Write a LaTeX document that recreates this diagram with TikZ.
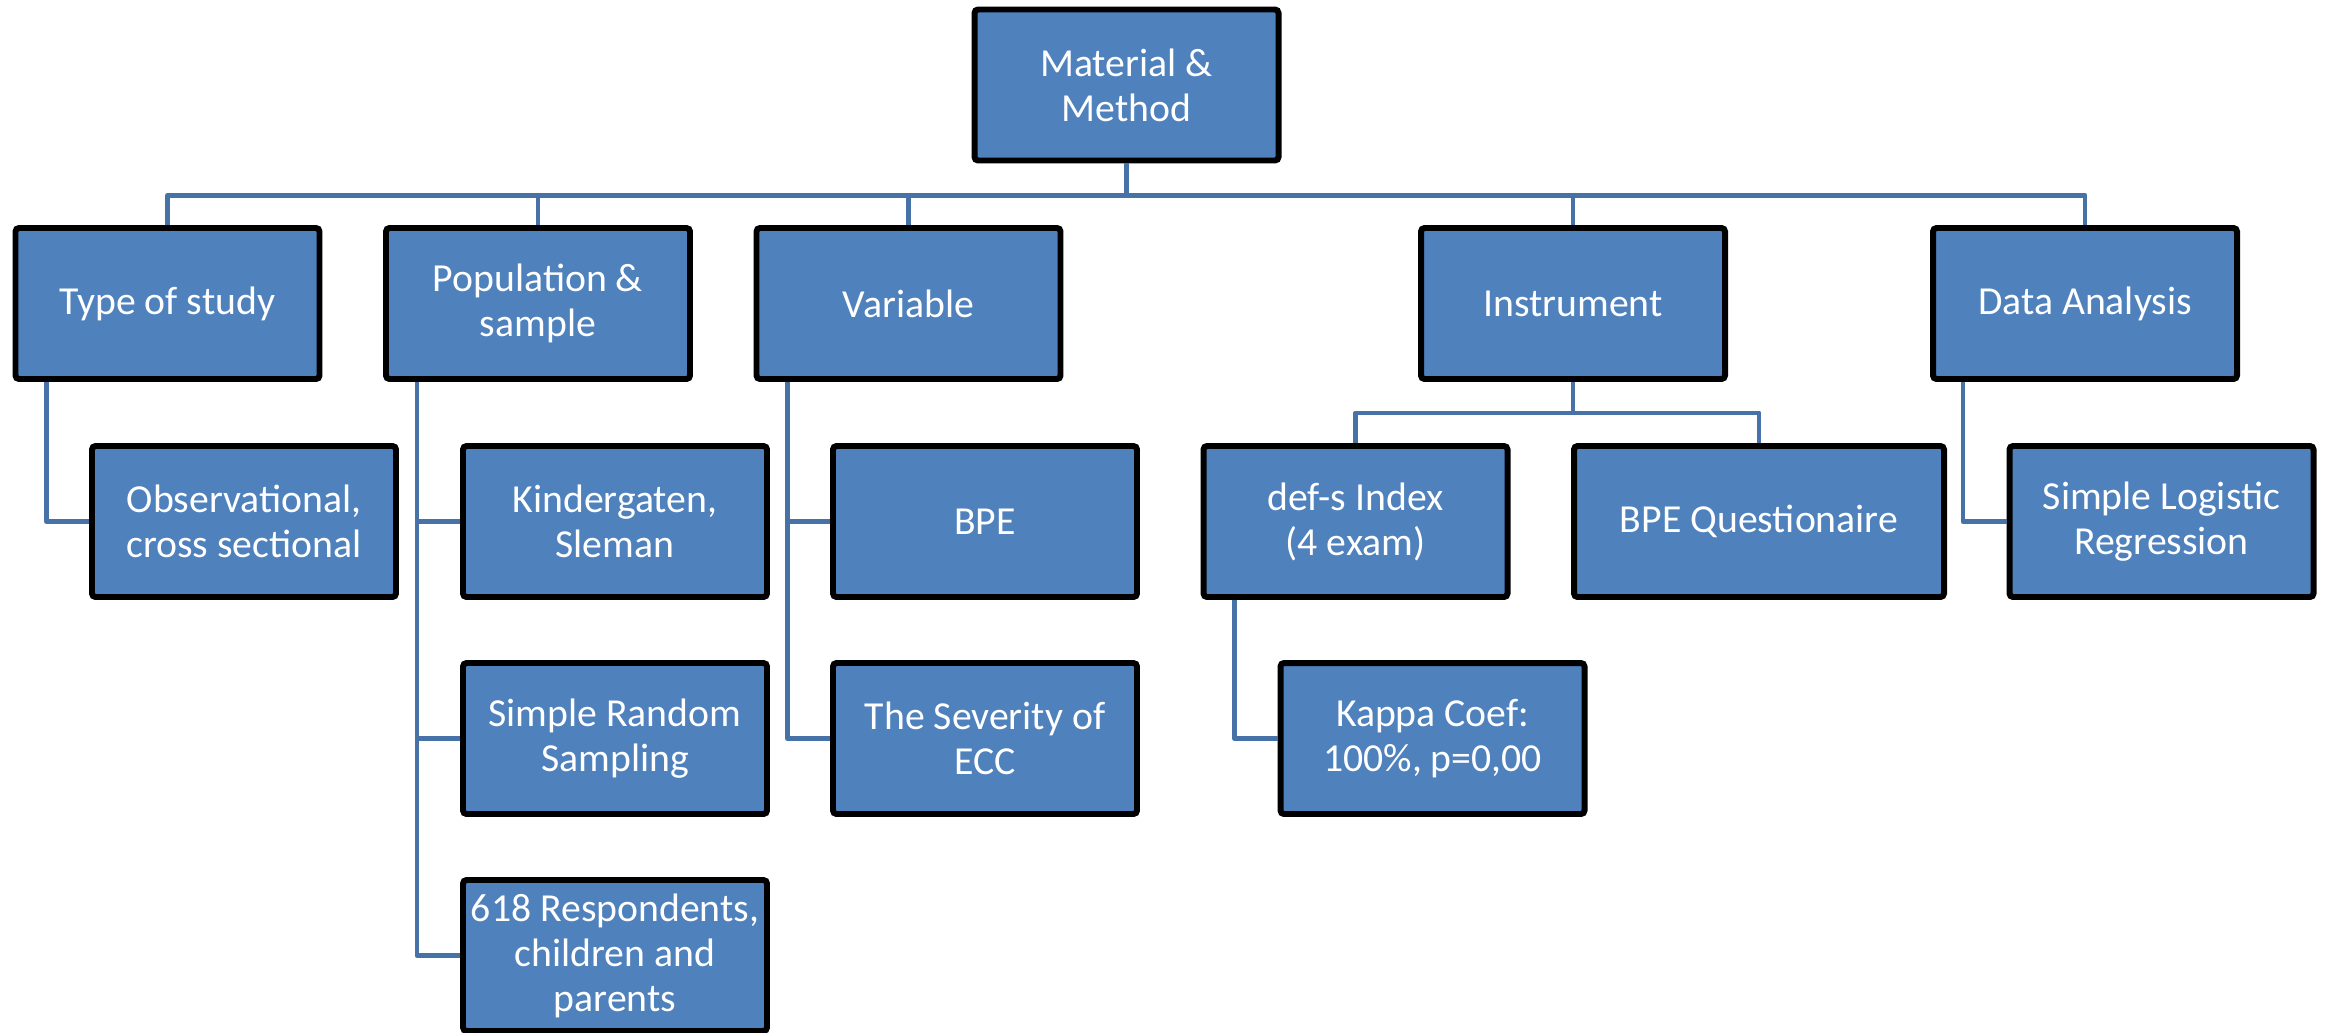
\documentclass[tikz,border=0pt]{standalone}
\usepackage{fontspec}
\setmainfont{Carlito}
\usetikzlibrary{positioning}
\definecolor{boxblue}{HTML}{4F81BD}
\definecolor{lineblue}{HTML}{4672A8}
\tikzset{%
	box/.style  = {draw=black, fill=boxblue, line width=1.7pt, rounded corners=1pt, minimum width=3.04cm, minimum height=1.51cm, inner sep=1pt, text=white, align=center, font=\fontsize{11.3}{12.8}\selectfont}, % SmartArt box
	conn/.style = {draw=lineblue, line width=1.4pt, line join=round}, % connector
}

\begin{document}
\begin{tikzpicture}[x=0.1mm,y=-0.1mm,node distance=2.17cm]
	\path[use as bounding box, fill=white] (0,0) rectangle (2330,1032);
	\node [box] (mm) at (1126.5,85) {Material \&\\Method};
	\node [box] (type) at (167.5,303.5) {Type of study};
	\node [box] (pop) [right of=type,node distance=3.705cm] {Population \&\\sample};
	\node [box] (var) [right of=pop,node distance=3.705cm] {Variable};
	\node [box] (instr) at (1573,303.5) {Instrument};
	\node [box] (data) [right of=instr,node distance=5.12cm] {Data Analysis};
	
	\node [box] (obs) at (244,521.5) {Observational,\\cross sectional};
	\node [box] (kind) at (615,521.5) {Kindergaten,\\Sleman};
	\node [box] (srs) [below of=kind] {Simple Random\\Sampling};
	\node [box] (resp) [below of=srs] {618 Respondents,\\children and\\parents};
	\node [box] (bpe) at (985,521.5) {BPE};
	\node [box] (sev) [below of=bpe] {The Severity of\\ECC};
	\node [box] (defs) at (1355.5,521.5) {def-s Index\\(4 exam)};
	\node [box,minimum width=3.70cm] (bpeq) at (1759,521.5) {BPE Questionaire};
	\node [box] (kappa) at (1432.5,738.5) {Kappa Coef:\\100\%, p=0,00};
	\node [box] (slr) at (2161.5,521.5) {Simple Logistic\\Regression};
	
	\draw[conn] (mm.south) -- ++(0,32) coordinate (bus);
	\draw[conn] (type.north) |- (bus);
	\draw[conn] (pop.north) |- (bus);
	\draw[conn] (var.north) |- (bus);
	\draw[conn] (instr.north) |- (bus);
	\draw[conn] (data.north) |- (bus);
	
	\draw[conn] ([xshift=0.34cm]type.south west) |- (obs.west);
	\draw[conn] ([xshift=0.34cm]pop.south west) |- (kind.west);
	\draw[conn] ([xshift=0.34cm]pop.south west) |- (srs.west);
	\draw[conn] ([xshift=0.34cm]pop.south west) |- (resp.west);
	\draw[conn] ([xshift=0.34cm]var.south west) |- (bpe.west);
	\draw[conn] ([xshift=0.34cm]var.south west) |- (sev.west);
	\draw[conn] (instr.south) -- ++(0,31) coordinate (ibus);
	\draw[conn] (defs.north) |- (ibus);
	\draw[conn] (bpeq.north) |- (ibus);
	\draw[conn] ([xshift=0.34cm]defs.south west) |- (kappa.west);
	\draw[conn] ([xshift=0.33cm]data.south west) |- (slr.west);
\end{tikzpicture}
\end{document}
